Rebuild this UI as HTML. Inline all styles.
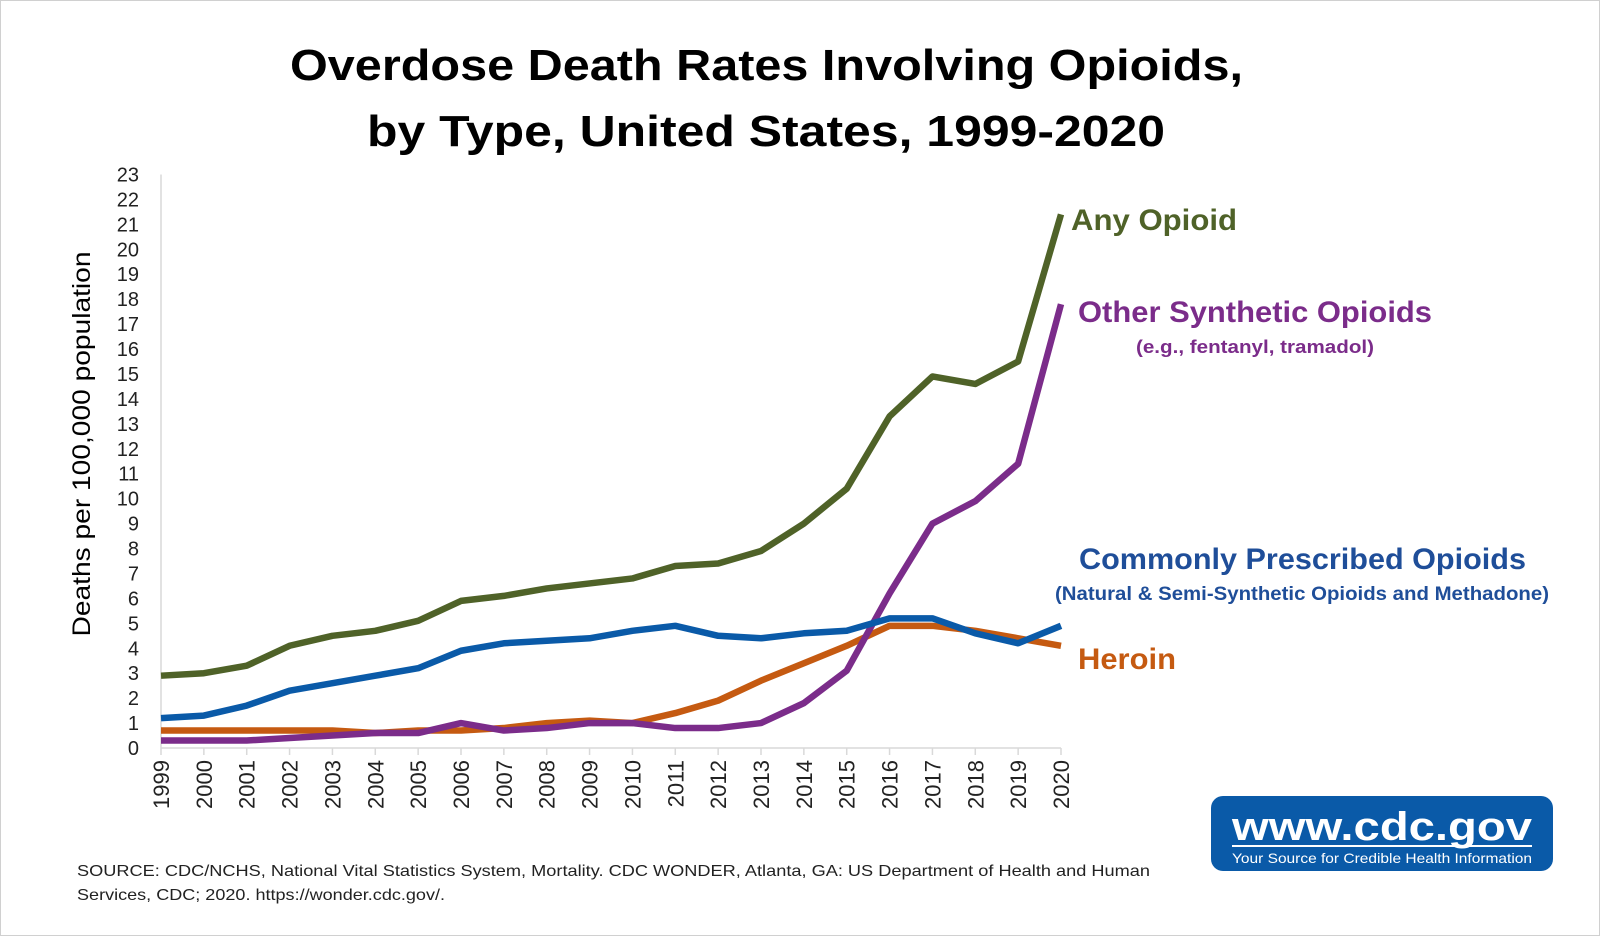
<!DOCTYPE html>
<html><head><meta charset="utf-8"><style>
html,body{margin:0;padding:0;background:#fff;}
svg{display:block;font-family:"Liberation Sans",sans-serif;}
</style></head><body>
<svg id="chart" width="1600" height="936" viewBox="0 0 1600 936" xmlns="http://www.w3.org/2000/svg">
<rect x="0.5" y="0.5" width="1599" height="935" fill="#fff" stroke="#d0d0d0"/>
<text x="290" y="80" font-size="44" font-weight="bold" textLength="953" lengthAdjust="spacingAndGlyphs">Overdose Death Rates Involving Opioids,</text>
<text x="367" y="146" font-size="44" font-weight="bold" textLength="798" lengthAdjust="spacingAndGlyphs">by Type, United States, 1999-2020</text>
<text transform="translate(90,444) rotate(-90)" text-anchor="middle" font-size="25" textLength="385" lengthAdjust="spacingAndGlyphs">Deaths per 100,000 population</text>
<g id="axes"></g>
<g id="series"></g>
<text x="1071" y="230" font-size="30" font-weight="bold" fill="#4f6228" textLength="166" lengthAdjust="spacingAndGlyphs">Any Opioid</text>
<text x="1078" y="322" font-size="30" font-weight="bold" fill="#7b2c8a" textLength="354" lengthAdjust="spacingAndGlyphs">Other Synthetic Opioids</text>
<text x="1255" y="353" font-size="18" font-weight="bold" fill="#7b2c8a" text-anchor="middle" textLength="238" lengthAdjust="spacingAndGlyphs">(e.g., fentanyl, tramadol)</text>
<text x="1079" y="569" font-size="30" font-weight="bold" fill="#1f4e99" textLength="447" lengthAdjust="spacingAndGlyphs">Commonly Prescribed Opioids</text>
<text x="1302" y="600" font-size="19" font-weight="bold" fill="#1f4e99" text-anchor="middle" textLength="494" lengthAdjust="spacingAndGlyphs">(Natural &amp; Semi-Synthetic Opioids and Methadone)</text>
<text x="1078" y="669" font-size="30" font-weight="bold" fill="#c55a11" textLength="98" lengthAdjust="spacingAndGlyphs">Heroin</text>
<text x="77" y="876" font-size="16" fill="#222" textLength="1073" lengthAdjust="spacingAndGlyphs">SOURCE: CDC/NCHS, National Vital Statistics System, Mortality. CDC WONDER, Atlanta, GA: US Department of Health and Human</text>
<text x="77" y="900" font-size="16" fill="#222" textLength="368" lengthAdjust="spacingAndGlyphs">Services, CDC; 2020. https://wonder.cdc.gov/.</text>
<g>
<rect x="1211" y="796" width="342" height="75" rx="12" fill="#0a5aa8"/>
<text x="1382" y="840" font-size="40" font-weight="bold" fill="#fff" text-anchor="middle" textLength="300" lengthAdjust="spacingAndGlyphs">www.cdc.gov</text>
<rect x="1232" y="845" width="300" height="2" fill="#fff"/>
<text x="1382" y="863" font-size="14" fill="#fff" text-anchor="middle" textLength="300" lengthAdjust="spacingAndGlyphs">Your Source for Credible Health Information</text>
</g>
</svg>
<script>
const years = [1999,2000,2001,2002,2003,2004,2005,2006,2007,2008,2009,2010,2011,2012,2013,2014,2015,2016,2017,2018,2019,2020];
const anyOpioid = [2.9,3.0,3.3,4.1,4.5,4.7,5.1,5.9,6.1,6.4,6.6,6.8,7.3,7.4,7.9,9.0,10.4,13.3,14.9,14.6,15.5,21.4];
const otherSynthetic = [0.3,0.3,0.3,0.4,0.5,0.6,0.6,1.0,0.7,0.8,1.0,1.0,0.8,0.8,1.0,1.8,3.1,6.2,9.0,9.9,11.4,17.8];
const commonlyPrescribed = [1.2,1.3,1.7,2.3,2.6,2.9,3.2,3.9,4.2,4.3,4.4,4.7,4.9,4.5,4.4,4.6,4.7,5.2,5.2,4.6,4.2,4.9];
const heroin = [0.7,0.7,0.7,0.7,0.7,0.6,0.7,0.7,0.8,1.0,1.1,1.0,1.4,1.9,2.7,3.4,4.1,4.9,4.9,4.7,4.4,4.1];
const yTicks = [0,1,2,3,4,5,6,7,8,9,10,11,12,13,14,15,16,17,18,19,20,21,22,23];

const NS='http://www.w3.org/2000/svg';
const X0=161, X1=1061, Y0=748, Y1=174.5, YMAX=23;
const xs = i => X0 + (X1-X0)*i/(years.length-1);
const ys = v => Y0 - (Y0-Y1)*v/YMAX;
function mk(tag, attrs, parent){const e=document.createElementNS(NS,tag);for(const k in attrs)e.setAttribute(k,attrs[k]);parent.appendChild(e);return e;}
const axes=document.getElementById('axes');
const yAxis=mk('line',{x1:X0,y1:Y0,x2:X0,y2:Y1,stroke:'#d9d9d9','stroke-width':1.5},axes);


const xAxis=mk('line',{x1:X0,y1:Y0,x2:X1,y2:Y0,stroke:'#d9d9d9','stroke-width':1.5},axes);


yTicks.forEach(t=>{
  const tx=mk('text',{x:139,y:ys(t)+7,'font-size':20,'text-anchor':'end',fill:'#222'},axes);
  tx.textContent=t;
  
  
});
years.forEach((yr,i)=>{
  const x=xs(i);
  const tk=mk('line',{x1:x,y1:Y0,x2:x,y2:Y0+7,stroke:'#d9d9d9','stroke-width':1.5},axes);
  
  
  const tx=mk('text',{transform:`translate(${x+8},${Y0+12}) rotate(-90)`,'font-size':22,'text-anchor':'end',fill:'#222'},axes);
  tx.textContent=yr;
  
  
});
const series=document.getElementById('series');
function drawLine(vals,color,name){
  const p=mk('polyline',{points:vals.map((v,i)=>xs(i)+','+ys(v)).join(' '),fill:'none',stroke:color,'stroke-width':6.5,'stroke-linejoin':'round'},series);
  
  
}
drawLine(heroin,'#c55a11','line-heroin');
drawLine(otherSynthetic,'#7b2c8a','line-other-synthetic');
drawLine(commonlyPrescribed,'#0a5aa8','line-commonly-prescribed');
drawLine(anyOpioid,'#4f6228','line-any-opioid');
</script>
</body></html>
